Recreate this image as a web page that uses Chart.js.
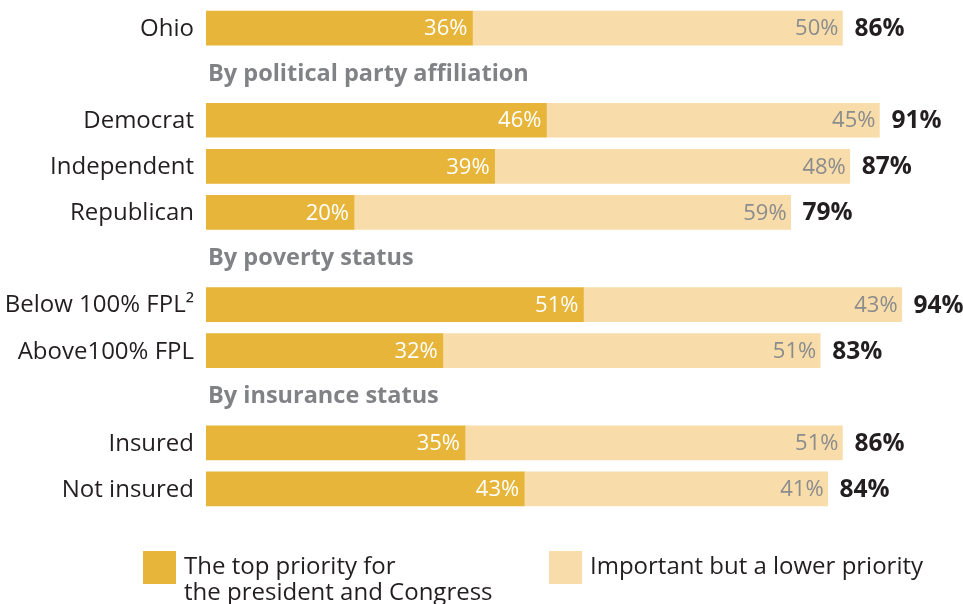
<!DOCTYPE html>
<html>
<head>
<meta charset="utf-8">
<script src="https://cdn.jsdelivr.net/npm/chart.js@4"></script>
<style>
  body { margin: 0; background: #fff; }
  #wrap { width: 963px; height: 604px; position: relative; }
</style>
</head>
<body>
<div id="wrap"><canvas id="prioridadChart"></canvas></div>
<script>
// --- Data ---
// null rows are the group headings
const categorias = ['Ohio', null, 'Democrat', 'Independent', 'Republican', null,
    'Below 100% FPL²', 'Above100% FPL', null, 'Insured', 'Not insured'];
const encabezados = ['', 'By political party affiliation', '', '', '', 'By poverty status',
    '', '', 'By insurance status', '', ''];
const topPrioridad = [36, null, 46, 39, 20, null, 51, 32, null, 35, 43];
const bajaPrioridad = [50, null, 45, 48, 59, null, 43, 51, null, 51, 41];
const totales = [86, null, 91, 87, 79, null, 94, 83, null, 86, 84];
const nombresSeries = ['The top priority for\nthe president and Congress', 'Important but a lower priority'];

const FUENTE = '"Open Sans", "Noto Sans", sans-serif';
const ORO = '#E6B539';
const CREMA = '#F8DCA9';

// Labels, headings, values and legend are drawn here
const etiquetasPlugin = {
    id: 'etiquetas',
    afterDatasetsDraw(chart) {
        const ctx = chart.ctx;
        const x = chart.scales.x;
        const y = chart.scales.y;
        ctx.save();
        ctx.textBaseline = 'middle';

        categorias.forEach((cat, i) => {
            const yc = y.getPixelForValue(i);
            if (cat === null) {
                ctx.font = 'bold 23.5px ' + FUENTE;
                ctx.fillStyle = '#808285';
                ctx.textAlign = 'left';
                ctx.fillText(encabezados[i], x.left + 2, yc);
                return;
            }
            ctx.font = '24px ' + FUENTE;
            ctx.fillStyle = '#231F20';
            ctx.textAlign = 'right';
            ctx.fillText(cat, x.left - 12, yc + 1);

            const fin1 = x.getPixelForValue(topPrioridad[i]);
            const fin2 = x.getPixelForValue(topPrioridad[i] + bajaPrioridad[i]);
            ctx.font = '22px ' + FUENTE;
            ctx.fillStyle = '#FFFFFF';
            ctx.fillText(topPrioridad[i] + '%', fin1 - 5, yc + 1);
            ctx.fillStyle = '#8A8C8E';
            ctx.fillText(bajaPrioridad[i] + '%', fin2 - 4, yc + 1);

            ctx.font = 'bold 24.5px ' + FUENTE;
            ctx.fillStyle = '#231F20';
            ctx.textAlign = 'left';
            ctx.fillText(totales[i] + '%', fin2 + 12, yc + 1);
        });

        // legend
        const items = [{ x: 143, color: ORO }, { x: 549, color: CREMA }];
        items.forEach((it, k) => {
            ctx.fillStyle = it.color;
            ctx.fillRect(it.x, 551, 33, 33);
            ctx.font = '24px ' + FUENTE;
            ctx.fillStyle = '#231F20';
            ctx.textAlign = 'left';
            nombresSeries[k].split('\n').forEach((linea, j) => {
                ctx.fillText(linea, it.x + 41, 567 + j * 26);
            });
        });
        ctx.restore();
    }
};

const ctxPrioridad = document.getElementById('prioridadChart').getContext('2d');
new Chart(ctxPrioridad, {
    type: 'bar',
    data: {
        labels: categorias.map((c, i) => c === null ? encabezados[i] : c),
        datasets: [{
            label: nombresSeries[0],
            data: topPrioridad,
            backgroundColor: ORO,
            barThickness: 34
        }, {
            label: nombresSeries[1],
            data: bajaPrioridad,
            backgroundColor: CREMA,
            barThickness: 34
        }]
    },
    options: {
        indexAxis: 'y',
        responsive: true,
        maintainAspectRatio: false,
        animation: false,
        layout: {
            padding: { left: 206, right: 17, top: 5, bottom: 92 }
        },
        scales: {
            x: { stacked: true, min: 0, max: 100, display: false },
            y: { stacked: true, display: false }
        },
        plugins: {
            legend: { display: false },
            tooltip: { enabled: false }
        }
    },
    plugins: [etiquetasPlugin]
});
</script>
</body>
</html>
